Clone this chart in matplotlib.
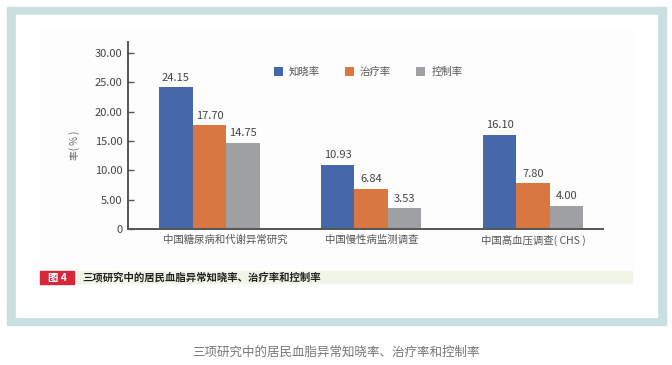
import matplotlib
matplotlib.use("Agg")
import matplotlib.pyplot as plt
from matplotlib.patches import Rectangle
import matplotlib.transforms as mtransforms
import numpy as np

plt.rcParams['font.family'] = ['Noto Sans CJK SC', 'DejaVu Sans']

categories = ["中国糖尿病和代谢异常研究", "中国慢性病监测调查", "中国高血压调查( CHS )"]
series_names = ["知晓率", "治疗率", "控制率"]
awareness = [24.15, 10.93, 16.10]
treatment = [17.70, 6.84, 7.80]
control = [14.75, 3.53, 4.00]
yticks = [0, 5, 10, 15, 20, 25, 30]
ytick_labels = ["0", "5.00", "10.00", "15.00", "20.00", "25.00", "30.00"]
colors = ["#4468a9", "#d8773f", "#9fa0a4"]

W, H = 672, 365
fig = plt.figure(figsize=(W / 100, H / 100), dpi=100)
fig.patch.set_facecolor("white")

def fx(x):
    return x / W

def fy(y):
    return 1 - y / H

# outer frame
fig.add_artist(Rectangle((fx(7), fy(325)), fx(666) - fx(7), fy(7) - fy(325),
                         transform=fig.transFigure, color="#c9dfe0", zorder=0))
fig.add_artist(Rectangle((fx(16), fy(317)), fx(657) - fx(16), fy(15) - fy(317),
                         transform=fig.transFigure, color="white", zorder=0))
fig.add_artist(Rectangle((fx(40), fy(265)), fx(632) - fx(40), fy(30) - fy(265),
                         transform=fig.transFigure, color="#fdfdfd", zorder=0))

ax = fig.add_axes([fx(128), fy(229), fx(603) - fx(128), fy(42) - fy(229)])
ax.patch.set_alpha(0)

x = np.arange(len(categories))
bw = 0.207
all_series = [awareness, treatment, control]
for i, (vals, name, c) in enumerate(zip(all_series, series_names, colors)):
    pos = x + (i - 1) * bw
    ax.bar(pos, vals, width=bw, color=c, label=name, zorder=2)
    for xb, v in zip(pos, vals):
        ax.text(xb, v + 0.8, f"{v:.2f}", ha="center", va="bottom",
                fontsize=8, color="#444444")

ax.set_xlim(-0.503, 2.432)
ax.set_ylim(0, 31.9)
ax.set_yticks(yticks)
ax.set_yticklabels(ytick_labels)
ax.set_xticks(x)
ax.set_xticklabels(categories)
ax.tick_params(axis="y", direction="in", length=4, width=1, color="#555555",
               labelsize=8, labelcolor="#444444", pad=4)
ax.tick_params(axis="x", length=0, labelsize=7.5, labelcolor="#555555", pad=4)
# first category label sits slightly right of its group in the original
lbl0 = ax.get_xticklabels()[0]
lbl0.set_transform(lbl0.get_transform() + mtransforms.ScaledTranslation(16 / 100, 0, fig.dpi_scale_trans))
for s in ["top", "right"]:
    ax.spines[s].set_visible(False)
for s in ["left", "bottom"]:
    ax.spines[s].set_color("#555555")
    ax.spines[s].set_linewidth(1.4)

fig.text(fx(75), fy(145), "率( % )", rotation=90, ha="center", va="center",
         fontsize=7, color="#666666")

ax.legend(loc="center", bbox_to_anchor=(fx(368), fy(72)), bbox_transform=fig.transFigure,
          ncol=3, frameon=False, handlelength=0.85, handleheight=0.85,
          columnspacing=2.4, handletextpad=0.6, fontsize=7.5, labelcolor="#555555")

# figure caption strip
fig.add_artist(Rectangle((fx(74), fy(283)), fx(632) - fx(74), fy(271) - fy(283),
                         transform=fig.transFigure, color="#f0f5e8", zorder=1))
fig.add_artist(Rectangle((fx(40), fy(284)), fx(74) - fx(40), fy(271) - fy(284),
                         transform=fig.transFigure, color="#d6263a", zorder=1))
fig.text(fx(57), fy(277.5), "图 4", ha="center", va="center", fontsize=7.5,
         color="white", fontweight="bold")
fig.text(fx(82), fy(277.5), "三项研究中的居民血脂异常知晓率、治疗率和控制率", ha="left",
         va="center", fontsize=7.5, color="#222222", fontweight="bold")

fig.text(fx(336), fy(352), "三项研究中的居民血脂异常知晓率、治疗率和控制率", ha="center",
         va="center", fontsize=9, color="#777777")

fig.savefig("out.png", dpi=100)
